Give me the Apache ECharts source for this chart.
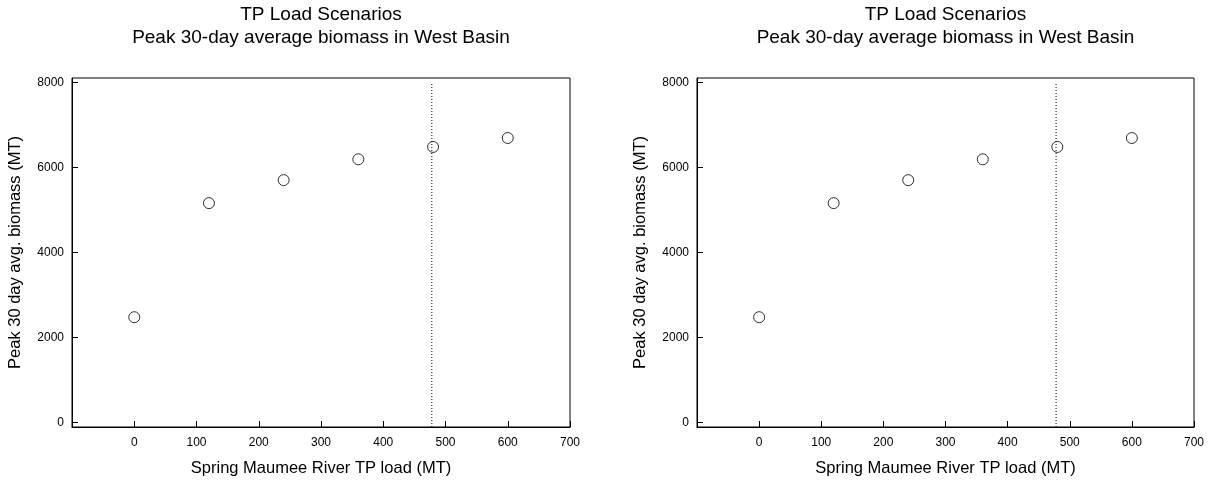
<!DOCTYPE html>
<html>
<head>
<meta charset="utf-8">
<script src="https://cdn.jsdelivr.net/npm/echarts@6/dist/echarts.min.js"></script>
<style>
html,body{margin:0;padding:0;background:#fff;}
#chart{width:1212px;height:483px;}
</style>
</head>
<body>
<div id="chart"></div>
<script>
// ---- data ----
const titleLine1 = 'TP Load Scenarios';
const titleLine2 = 'Peak 30-day average biomass in West Basin';
const xName = 'Spring Maumee River TP load (MT)';
const yName = 'Peak 30 day avg. biomass (MT)';
const loads = [0, 120, 240, 360, 480, 600];
const biomass = [2480, 5160, 5700, 6190, 6480, 6690];
const refLoad = [478];
const xTicks = [0, 100, 200, 300, 400, 500, 600, 700];
const yTicks = [0, 2000, 4000, 6000, 8000];
const xRange = [-100, 700];
const yRange = [-100, 8100];

const FONT = '"Liberation Sans", Arial, Helvetica, sans-serif';
const panels = [
  {left: 72, width: 498},
  {left: 697, width: 497}
];
const TOP = 78, HEIGHT = 349;

const chart = echarts.init(document.getElementById('chart'), null, {renderer: 'canvas'});

const option = {
  backgroundColor: '#fff',
  animation: false,
  title: panels.map(p => ({
    text: titleLine1 + '\n' + titleLine2,
    left: p.left + p.width / 2,
    top: 3,
    padding: 0,
    textAlign: 'center',
    textStyle: {fontFamily: FONT, fontSize: 19, fontWeight: 'normal', color: '#000', lineHeight: 23}
  })),
  grid: panels.map(p => ({
    left: p.left, width: p.width, top: TOP, height: HEIGHT,
    show: true, borderColor: '#000', borderWidth: 1, backgroundColor: 'transparent'
  })),
  xAxis: panels.map((p, i) => ({
    type: 'value', gridIndex: i, min: xRange[0], max: xRange[1],
    name: xName, nameLocation: 'middle', nameGap: 33,
    nameTextStyle: {fontFamily: FONT, fontSize: 16.5, color: '#000'},
    axisLine: {show: true, onZero: false, lineStyle: {color: '#000', width: 1}},
    axisTick: {show: true, inside: true, length: 6, customValues: xTicks, lineStyle: {color: '#000'}},
    axisLabel: {show: true, customValues: xTicks, margin: 10, fontFamily: FONT, fontSize: 12, color: '#000'},
    splitLine: {show: false}
  })),
  yAxis: panels.map((p, i) => ({
    type: 'value', gridIndex: i, min: yRange[0], max: yRange[1],
    name: yName, nameLocation: 'middle', nameGap: 48,
    nameTextStyle: {fontFamily: FONT, fontSize: 16.5, color: '#000'},
    axisLine: {show: true, onZero: false, lineStyle: {color: '#000', width: 1}},
    axisTick: {show: true, inside: true, length: 6, customValues: yTicks, lineStyle: {color: '#000'}},
    axisLabel: {show: true, customValues: yTicks, margin: 8, fontFamily: FONT, fontSize: 12, color: '#000',
      formatter: v => String(v)},
    splitLine: {show: false}
  })),
  series: []
};

panels.forEach((p, i) => {
  option.series.push({
    type: 'scatter', xAxisIndex: i, yAxisIndex: i,
    data: loads.map((x, k) => [x, biomass[k]]),
    symbol: 'circle', symbolSize: 11,
    itemStyle: {color: 'rgba(0,0,0,0)', borderColor: '#000', borderWidth: 1},
    emphasis: {disabled: true},
    z: 3
  });
  option.series.push({
    type: 'line', xAxisIndex: i, yAxisIndex: i,
    data: [[refLoad[0], yRange[0]], [refLoad[0], yTicks[yTicks.length - 1]]],
    symbol: 'none', silent: true,
    lineStyle: {color: '#000', width: 1, type: [1, 2]},
    z: 2
  });
});

chart.setOption(option);
</script>
</body>
</html>
